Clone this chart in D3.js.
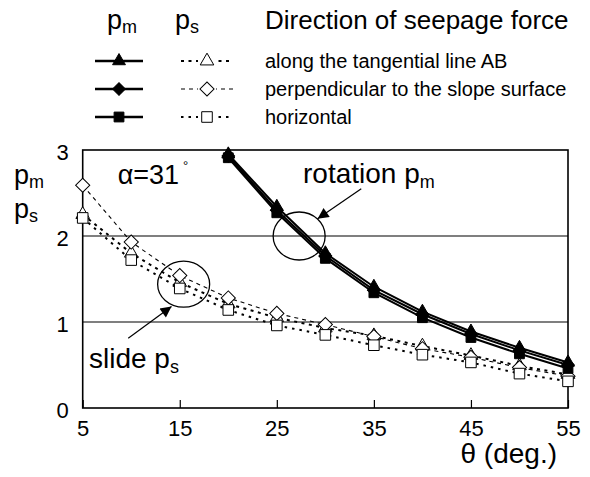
<!DOCTYPE html>
<html>
<head>
<meta charset="utf-8">
<script src="https://cdn.jsdelivr.net/npm/d3@7"></script>
<style>
  body { margin: 0; background: #fff; }
  svg { display: block; }
  text { font-family: "Liberation Sans", Arial, sans-serif; fill: #000; }
</style>
</head>
<body>
<svg id="chart" width="590" height="477"></svg>
<script>
// slope angle theta (deg.)
const thetaS = [5, 10, 15, 20, 25, 30, 35, 40, 45, 50, 55];
const thetaM = [20, 25, 30, 35, 40, 45, 50, 55];

// slide safety ratio p_s for each seepage-force direction
const psAlong = [2.25, 1.80, 1.46, 1.21, 1.05, 0.93, 0.84, 0.72, 0.61, 0.49, 0.39];
const psPerp  = [2.59, 1.93, 1.54, 1.28, 1.10, 0.97, 0.83, 0.69, 0.59, 0.47, 0.37];
const psHoriz = [2.21, 1.72, 1.39, 1.14, 0.96, 0.85, 0.73, 0.62, 0.53, 0.40, 0.31];

// rotation safety ratio p_m for each seepage-force direction
const pmAlong = [2.95, 2.34, 1.80, 1.41, 1.12, 0.89, 0.70, 0.53];
const pmPerp  = [2.93, 2.30, 1.77, 1.37, 1.09, 0.86, 0.67, 0.50];
const pmHoriz = [2.91, 2.27, 1.74, 1.34, 1.05, 0.82, 0.63, 0.46];

const xTicks = [5, 15, 25, 35, 45, 55];
const yTicks = [0, 1, 2, 3];
const gridValues = [1, 2];
const directions = ["along the tangential line AB", "perpendicular to the slope surface", "horizontal"];

const svg = d3.select("#chart");
const x = d3.scaleLinear().domain([5, 55]).range([82.7, 568]);
const y = d3.scaleLinear().domain([0, 3]).range([408, 150]);

// marker shapes
const sym = {
  tri: d3.symbol().type(d3.symbolTriangle),
  sq: d3.symbol().type(d3.symbolSquare)
};
function marker(g, kind, filled) {
  let p;
  if (kind === "tri") p = g.append("path").attr("d", sym.tri.size(filled ? 72 : 80)());
  else if (kind === "sq") p = g.append("path").attr("d", sym.sq.size(filled ? 96 : 112)());
  else p = g.append("path").attr("d", sym.sq.size(filled ? 80 : 100)()).attr("transform", "rotate(45)");
  p.attr("fill", filled ? "#000" : "#fff").attr("stroke", "#000").attr("stroke-width", 1);
  return p;
}

// grid lines
svg.append("g").selectAll("line").data(gridValues).join("line")
  .attr("x1", x(5)).attr("x2", x(55))
  .attr("y1", d => y(d)).attr("y2", d => y(d))
  .attr("stroke", "#000").attr("stroke-width", 1.2);

// frame
svg.append("rect")
  .attr("x", x(5)).attr("y", y(3))
  .attr("width", x(55) - x(5)).attr("height", y(0) - y(3))
  .attr("fill", "none").attr("stroke", "#000").attr("stroke-width", 1.6);

// x axis ticks (inside) and labels
const xAxis = d3.axisBottom(x).tickValues(xTicks).tickSize(-8).tickPadding(12).tickFormat(d3.format("d"));
const gx = svg.append("g").attr("transform", `translate(0,${y(0)})`).call(xAxis);
gx.select(".domain").remove();
gx.selectAll(".tick line").attr("stroke", "#000").attr("stroke-width", 1.2);
gx.selectAll(".tick text").attr("font-size", 22).attr("font-family", "Liberation Sans, Arial, sans-serif").attr("fill", "#000");

// y axis labels
const yAxis = d3.axisLeft(y).tickValues(yTicks).tickSize(0).tickPadding(14).tickFormat(d3.format("d"));
const gy = svg.append("g").attr("transform", `translate(${x(5)},0)`).call(yAxis);
gy.select(".domain").remove();
gy.selectAll(".tick text").attr("font-size", 22).attr("dy", "0.45em").attr("font-family", "Liberation Sans, Arial, sans-serif").attr("fill", "#000");

// slide ratio p_s : dotted lines with open markers
const psSeries = [
  { vals: psAlong, kind: "tri", width: 2, dash: "3,4.5" },
  { vals: psPerp, kind: "dia", width: 1.1, dash: "4,4" },
  { vals: psHoriz, kind: "sq", width: 2, dash: "2.5,5" }
];
const lineS = d3.line().x((d, i) => x(thetaS[i])).y(d => y(d));
psSeries.forEach(s => {
  svg.append("path").attr("d", lineS(s.vals)).attr("fill", "none")
    .attr("stroke", "#000").attr("stroke-width", s.width).attr("stroke-dasharray", s.dash);
});
psSeries.forEach(s => {
  s.vals.forEach((v, i) => {
    const g = svg.append("g").attr("transform", `translate(${x(thetaS[i])},${y(v)})`);
    marker(g, s.kind, false);
  });
});

// rotation ratio p_m : solid lines with filled markers
const pmSeries = [
  { vals: pmAlong, kind: "tri" },
  { vals: pmPerp, kind: "dia" },
  { vals: pmHoriz, kind: "sq" }
];
const lineM = d3.line().x((d, i) => x(thetaM[i])).y(d => y(d));
pmSeries.forEach(s => {
  svg.append("path").attr("d", lineM(s.vals)).attr("fill", "none")
    .attr("stroke", "#000").attr("stroke-width", 2);
});
pmSeries.forEach(s => {
  s.vals.forEach((v, i) => {
    const g = svg.append("g").attr("transform", `translate(${x(thetaM[i])},${y(v)})`);
    marker(g, s.kind, true);
  });
});

// arrowhead
const defs = svg.append("defs");
defs.append("marker").attr("id", "head").attr("viewBox", "0 0 10 10")
  .attr("refX", 10).attr("refY", 5).attr("markerWidth", 13).attr("markerHeight", 11)
  .attr("markerUnits", "userSpaceOnUse").attr("orient", "auto")
  .append("path").attr("d", "M0,0 L10,5 L0,10 Z").attr("fill", "#000");

// annotations: rotation p_m
svg.append("ellipse").attr("cx", x(27.3)).attr("cy", y(2.0)).attr("rx", 26).attr("ry", 24)
  .attr("fill", "none").attr("stroke", "#000").attr("stroke-width", 1.3);
svg.append("line").attr("x1", x(33.7)).attr("y1", y(2.55)).attr("x2", x(29.2)).attr("y2", y(2.2))
  .attr("stroke", "#000").attr("stroke-width", 1.2).attr("marker-end", "url(#head)");
const rot = svg.append("text").attr("x", x(27.7)).attr("y", y(2.62)).attr("font-size", 28);
rot.append("tspan").text("rotation p");
rot.append("tspan").attr("font-size", 18).attr("dy", 5).text("m");

// annotations: slide p_s
svg.append("ellipse").attr("cx", x(15.4)).attr("cy", y(1.44)).attr("rx", 26).attr("ry", 23)
  .attr("fill", "none").attr("stroke", "#000").attr("stroke-width", 1.3);
svg.append("line").attr("x1", x(9.69)).attr("y1", y(0.81)).attr("x2", x(14.15)).attr("y2", y(1.18))
  .attr("stroke", "#000").attr("stroke-width", 1.2).attr("marker-end", "url(#head)");
const sl = svg.append("text").attr("x", x(5.65)).attr("y", y(0.47)).attr("font-size", 28);
sl.append("tspan").text("slide p");
sl.append("tspan").attr("font-size", 18).attr("dy", 5).text("s");

// slope angle note
const al = svg.append("text").attr("x", x(8.6)).attr("y", y(2.6)).attr("font-size", 27);
al.append("tspan").text("\u03b1=31");
al.append("tspan").attr("font-size", 13).attr("dy", -14).attr("dx", 4).text("\u00b0");

// axis titles
const yt1 = svg.append("text").attr("x", 14).attr("y", 184).attr("font-size", 27);
yt1.append("tspan").text("p");
yt1.append("tspan").attr("font-size", 18).attr("dy", 4).text("m");
const yt2 = svg.append("text").attr("x", 14).attr("y", 218).attr("font-size", 27);
yt2.append("tspan").text("p");
yt2.append("tspan").attr("font-size", 18).attr("dy", 4).text("s");
svg.append("text").attr("x", 557).attr("y", 463).attr("text-anchor", "end").attr("font-size", 28)
  .text("\u03b8 (deg.)");

// legend
const hdrM = svg.append("text").attr("x", 107).attr("y", 29).attr("font-size", 27);
hdrM.append("tspan").text("p");
hdrM.append("tspan").attr("font-size", 18).attr("dy", 4).text("m");
const hdrS = svg.append("text").attr("x", 175).attr("y", 29).attr("font-size", 27);
hdrS.append("tspan").text("p");
hdrS.append("tspan").attr("font-size", 18).attr("dy", 4).text("s");
svg.append("text").attr("x", 265).attr("y", 29).attr("font-size", 26).text("Direction of seepage force");

const rowY = [61, 89, 117];
directions.forEach((label, i) => {
  const yy = rowY[i];
  svg.append("line").attr("x1", 95).attr("x2", 143).attr("y1", yy).attr("y2", yy)
    .attr("stroke", "#000").attr("stroke-width", 2.6);
  marker(svg.append("g").attr("transform", `translate(119,${yy})`), pmSeries[i].kind, true);
  svg.append("line").attr("x1", 181).attr("x2", 233).attr("y1", yy).attr("y2", yy)
    .attr("stroke", "#000").attr("stroke-width", psSeries[i].width).attr("stroke-dasharray", psSeries[i].dash);
  const g = svg.append("g").attr("transform", `translate(207,${yy})`);
  g.append("rect").attr("x", -9).attr("y", -9).attr("width", 18).attr("height", 18).attr("fill", "#fff");
  marker(g, psSeries[i].kind, false);
  svg.append("text").attr("x", 265).attr("y", yy + 7).attr("font-size", 20).text(label);
});
</script>
</body>
</html>
